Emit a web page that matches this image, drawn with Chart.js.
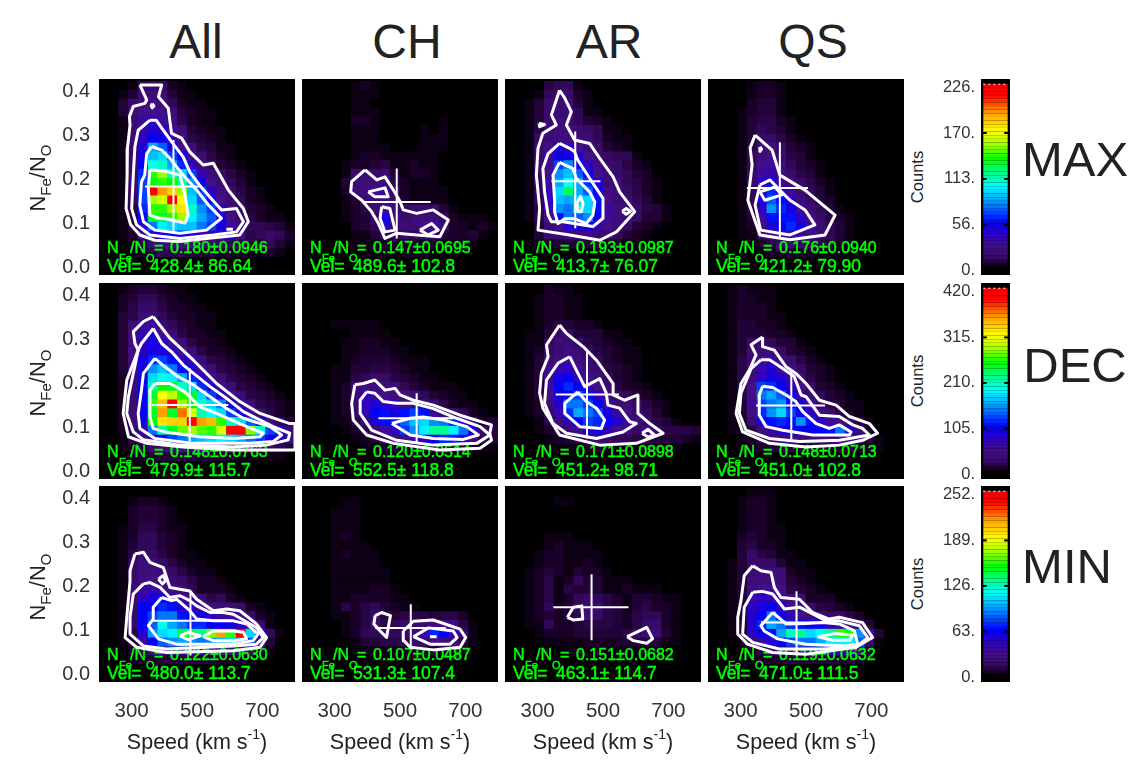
<!DOCTYPE html>
<html>
<head>
<meta charset="utf-8">
<title>Fe/O versus speed</title>
<script src="https://cdn.jsdelivr.net/npm/chart.js@4"></script>
<style>
  body { margin: 0; background: #fff; width: 1128px; height: 767px; overflow: hidden; position: relative; font-family: "Liberation Sans", Arial, sans-serif; color: #222; }
  canvas { position: absolute; display: block; }
  .t { position: absolute; white-space: pre; line-height: 1; }
  .c { transform: translate(-50%, -50%); }
  .r { transform: translate(-50%, -50%) rotate(-90deg); }
  sub { font-size: 15px; vertical-align: -6px; line-height: 0; }
  sup { font-size: 14px; vertical-align: 10px; line-height: 0; }
</style>
</head>
<body>
<script>
// Axes and bins
const xTicks = [300, 500, 700];
const yTicks = [0, 0.1, 0.2, 0.3, 0.4];
const speedBins = [215, 245, 275, 305, 335, 365, 395, 425, 455, 485, 515, 545, 575, 605, 635, 665, 695, 725, 755, 785];
const ratioBins = [0.402, 0.382, 0.362, 0.342, 0.322, 0.302, 0.282, 0.262, 0.242, 0.222, 0.202, 0.182, 0.162, 0.142, 0.122, 0.102, 0.082, 0.062, 0.042, 0.022, 0.002, -0.018];

const columnNames = ['All', 'CH', 'AR', 'QS'];
const rowNames = ['MAX', 'DEC', 'MIN'];
const countTicks = [[0, 56, 113, 170, 226], [0, 105, 210, 315, 420], [0, 63, 126, 189, 252]];
const barLevels = [0, 2, 4, 6, 8, 10, 12, 14, 16, 18, 20, 22, 24, 26, 28, 30, 32, 34, 36, 38, 40, 42, 44, 46, 48, 50, 52, 54, 56, 58, 60, 62, 64, 66, 68, 70, 72, 74, 76, 78, 80, 82, 84, 86, 88, 90, 92, 94, 96, 98, 100];

// Colour table, position in percent of the colour bar
const rampStops = [0, 2, 6, 12, 18, 25, 36, 45, 52, 60, 68, 75, 85, 95, 100];
const rampColors = ['#000000', '#1a0028', '#380a68', '#420f88', '#3000c0', '#0000ff', '#0090ff', '#00ffff', '#00ff90', '#00ff00', '#a0ff00', '#ffff00', '#ffa000', '#ff0000', '#ff0000'];

// Stats printed in the panels
const ratioText = ['0.180±0.0946', '0.147±0.0695', '0.193±0.0987', '0.176±0.0940', '0.148±0.0763', '0.120±0.0514', '0.171±0.0898', '0.148±0.0713', '0.122±0.0630', '0.107±0.0487', '0.151±0.0682', '0.119±0.0632'];
const velText = ['428.4± 86.64', '489.6± 102.8', '413.7± 76.07', '421.2± 79.90', '479.9± 115.7', '552.5± 118.8', '451.2± 98.71', '451.0± 102.8', '480.0± 113.7', '531.3± 107.4', '463.1± 114.7', '471.0± 111.5'];

// Heat map levels in percent of the row's colour bar, top row first, trailing zeros left out
const allMaxLevels = [
  [0,0,0,1,5,6,6,2,1],[0,0,1,3,8,9,8,3,1,1],[0,0,3,7,10,11,10,5,2,1,1],[0,0,3,8,12,12,11,9,3,2,1,1],
  [0,0,1,8,14,18,14,10,4,2,1,1],[0,0,1,8,16,20,18,13,8,3,2,1,1],[0,0,1,8,18,24,22,16,10,4,3,2,1],
  [0,0,1,7,20,38,32,22,12,8,4,3,1,1],[0,0,1,7,22,40,42,30,22,11,8,4,2,1],[0,0,1,6,25,46,48,38,28,18,9,6,3,2,1],
  [0,0,1,6,28,62,68,50,42,30,16,9,6,4,2,1],[0,0,1,6,30,60,62,60,50,36,22,12,8,5,3,1],
  [0,0,1,6,30,96,85,80,68,40,30,18,10,7,4,2,1],[0,0,1,5,30,68,72,98,75,42,32,22,12,8,5,2,1],
  [0,0,1,4,28,62,62,68,78,48,36,30,18,8,6,3,2,1],[0,0,1,4,24,58,58,62,68,44,38,32,22,12,6,4,2,1,1],
  [0,0,1,3,20,34,44,42,40,40,34,30,22,14,8,5,5,4,3,1],[0,0,1,2,12,20,22,24,22,20,18,16,14,18,10,4,5,6,5,2],
  [0,0,0,1,4,8,10,10,10,10,9,8,6,5,5,3,3,5,3,1],[0,0,0,1,2,4,5,4,4,3,3,3,2,2,2,1,1,2,1],[],[]
];
const chMaxLevels = [
  [0,0,0,0,0,1,2,1],[0,0,0,0,0,1,1,1],[0,0,0,0,0,1,1],[0,0,0,0,0,1,1,1],[0,0,0,0,0,2,2,1,0,0,0,0,0,0,1],
  [0,0,0,0,0,1,1,1,0,0,0,0,1,0,1],[0,0,0,0,0,1,1,1,0,0,0,0,1,1,1],[0,0,0,0,0,1,1,1,1,0,0,0,1,1,1],
  [0,0,0,0,0,1,2,2,1,1,1,1,1,1],[0,0,0,0,1,2,2,3,4,1,1,2,1,1],[0,0,0,0,1,7,8,6,7,3,1,2,2,1],
  [0,0,0,0,3,8,9,9,9,4,2,1,1,1],[0,0,0,0,2,8,10,12,14,6,2,1,1,1,1],[0,0,0,0,1,3,8,8,10,7,2,1,1,1,1],
  [0,0,0,0,1,2,4,8,14,8,6,7,8,6,3,1],[0,0,0,0,1,2,3,5,22,8,6,8,9,9,6,2,1,1,1],[0,0,0,0,0,2,3,5,20,7,8,8,12,14,8,2,2,1,2,1],
  [0,0,0,0,0,1,1,3,5,4,6,5,6,7,3,2,2,3,1],[0,0,0,0,0,1,1,1,2,2,2,2,2,2,1,1,1,1],[0,0,0,0,0,0,1,1,1,1,1,1,1],[],[]
];
const arMaxLevels = [
  [0,0,0,0,4,5,5,1],[0,0,0,1,5,7,7,2,1],[0,0,1,3,7,8,8,3,1],[0,0,1,3,6,8,8,5,1,1],[0,0,1,3,7,9,8,5,3,2,1],
  [0,0,1,4,8,10,10,8,6,5,1,1],[0,0,1,6,8,10,10,9,8,5,2,1,1],[0,0,1,7,12,20,18,12,8,6,3,2,1],[0,0,1,7,14,22,22,20,12,8,6,5,5,1],
  [0,0,1,7,12,30,36,22,18,10,7,6,4,2,1],[0,0,1,6,12,36,40,32,22,12,8,6,5,3,2],[0,0,1,5,14,38,45,38,28,20,8,8,5,4,2,1],
  [0,0,1,5,16,42,55,38,32,22,10,8,6,4,2,1],[0,0,1,5,18,40,38,42,42,26,12,8,8,5,3,1],[0,0,1,4,14,36,34,48,42,26,14,10,8,6,4,3,1],
  [0,0,1,4,12,26,34,32,36,22,14,9,8,6,3,3,1],[0,0,0,3,8,12,20,20,22,16,12,8,6,3,2,1],[0,0,0,3,6,7,8,8,10,8,7,5,3,2,1],
  [0,0,0,1,2,3,3,3,3,3,2,2,1,1],[],[],[]
];
const qsMaxLevels = [
  [0,0,0,0,1,2,2,1],[0,0,0,0,1,2,2,1],[0,0,0,0,2,3,3,1],[0,0,0,1,2,3,3,1],[0,0,0,1,3,4,4,2,1],[0,0,0,1,3,5,4,3,1],
  [0,0,0,1,3,6,6,4,2,1],[0,0,0,1,4,8,10,6,3,2,1],[0,0,0,1,5,9,12,7,4,3,1],[0,0,0,1,5,12,14,9,5,3,2,1],[0,0,0,1,6,14,16,10,7,4,3,1],
  [0,0,0,1,6,18,22,14,10,6,4,2,1],[0,0,0,1,5,20,28,20,14,8,5,3,1],[0,0,0,1,5,22,32,26,18,10,6,3,2],[0,0,0,1,4,18,36,28,22,14,8,5,3,1],
  [0,0,0,1,3,14,26,26,26,18,10,6,4,2,1],[0,0,0,1,2,10,20,24,28,22,14,8,5,3,1],[0,0,0,1,1,6,10,14,14,14,12,8,5,3,1],
  [0,0,0,0,1,2,4,6,6,6,5,4,3,2,1],[0,0,0,0,0,1,2,2,2,2,2,1,1,1],[],[]
];
const allDecLevels = [
  [0,0,1,2,3,3,2,1,1],[0,0,2,3,5,5,3,2,1,1],[0,0,2,4,6,6,4,2,2,1,1],[0,0,3,4,8,8,5,3,2,2,1,1],[0,0,3,8,14,14,8,5,3,2,1,1],
  [0,0,3,10,16,20,12,8,4,2,2,1,1],[0,0,3,10,18,22,18,12,8,4,2,2,1],[0,0,3,12,18,22,22,18,12,8,4,2,2,1],[0,0,3,10,22,28,30,26,18,16,8,4,3,2,1],
  [0,0,3,10,22,36,40,34,26,20,12,8,4,3,2,1],[0,0,2,8,22,42,46,44,38,28,18,12,8,4,3,2,1],[0,0,2,8,24,50,60,58,48,42,28,20,12,8,4,3,2,1],
  [0,0,2,8,24,58,75,70,62,58,42,30,20,12,8,4,3,2,1],[0,0,2,8,24,62,82,95,68,60,48,42,35,22,14,8,4,3,2,1],[0,0,2,8,24,58,85,58,88,72,50,45,42,30,22,12,8,4,2,1],
  [0,0,2,8,22,60,78,80,80,95,85,82,62,50,42,32,20,10,5,3],[0,0,2,6,16,34,50,58,65,68,64,62,72,96,96,66,48,30,20,8],[0,0,1,4,8,16,24,30,34,38,40,42,44,42,38,34,30,22,20,10],
  [0,0,1,2,4,6,8,10,12,14,14,12,10,8,8,6,6,6,5,3],[0,0,0,1,2,2,3,3,3,3,3,2,2,2,1,1,1,1,1],[],[]
];
const chDecLevels = [
  [],[],[],[],[0,0,0,1,1,1,1,1],[0,0,0,0,0,1,1,1,1],[0,0,0,0,1,1,2,2,1,1],[0,0,0,0,1,1,2,2,2,1,1],[0,0,0,0,1,2,3,3,3,2,1,1,1],
  [0,0,0,1,1,3,3,4,4,3,2,1,1],[0,0,0,1,1,4,5,6,6,4,3,2,1,1],[0,0,0,1,2,8,10,10,8,8,5,3,2,1,1,1],[0,0,0,1,2,8,18,14,12,10,10,8,5,3,2,1,1],
  [0,0,0,1,2,8,18,20,18,16,10,8,8,8,4,2,1,1],[0,0,0,1,2,6,16,25,26,22,26,30,26,14,10,8,5,2,1],[0,0,0,1,1,4,8,20,26,26,32,40,42,36,34,28,18,8,2,3],
  [0,0,0,0,1,2,4,8,14,18,30,36,44,52,52,44,34,22,6,4],[0,0,0,0,0,1,2,3,6,8,10,16,20,24,28,26,20,10,5,3],[0,0,0,0,0,0,1,1,2,3,3,3,4,4,4,3,3,2,1,1],
  [0,0,0,0,0,0,0,0,1,1,1,1,1,1,1],[],[]
];
const arDecLevels = [
  [0,0,0,0,2,1,1],[0,0,0,1,2,2,1,1],[0,0,0,1,2,2,1,1],[0,0,0,1,2,2,1,1],[0,0,0,1,2,4,3,2,2,1],[0,0,1,1,3,6,6,3,3,3,1,1],[0,0,1,1,5,8,8,6,4,3,2,1,1],
  [0,0,1,2,6,8,10,8,6,4,3,2,1,1],[0,0,1,3,8,10,14,10,8,5,3,2,1,1],[0,0,1,3,10,16,18,12,9,7,4,3,2,1],[0,0,1,3,10,22,24,16,12,9,6,3,2,1],
  [0,0,1,3,14,24,28,24,16,12,7,4,2,2,1],[0,0,1,3,12,22,24,30,26,18,10,6,5,3,2,1],[0,0,1,2,8,20,34,34,30,24,14,8,8,6,4,2,1],
  [0,0,1,2,6,16,28,38,34,30,22,14,10,6,5,3,1],[0,0,0,1,4,10,18,24,30,28,24,20,14,10,6,4,3,1],[0,0,0,1,2,4,8,14,20,22,18,12,10,6,10,7,4,4,4,3],
  [0,0,0,0,1,2,3,4,7,8,6,5,5,4,4,3,3,3,2,1],[0,0,0,0,1,1,1,1,2,2,2,1,1,1,1,1,1,1],[],[],[]
];
const qsDecLevels = [
  [0,0,1,2,1,1,1],[0,0,1,2,2,1,1],[0,0,1,2,2,2,1],[0,0,1,2,2,2,1,1],[0,0,1,3,3,2,2,1],[0,0,1,3,3,3,2,2,1],[0,0,1,3,6,7,5,3,3,1],
  [0,0,1,3,8,8,9,6,3,2,1],[0,0,1,4,8,12,14,10,7,4,2,1],[0,0,1,4,10,16,20,14,10,6,3,2,1],[0,0,1,4,10,18,22,20,14,8,4,2,1],
  [0,0,1,4,12,30,28,24,18,12,6,3,2,1],[0,0,1,4,12,34,38,32,24,16,8,5,3,2,1],[0,0,1,3,14,30,34,36,26,20,12,6,4,3,1,1],
  [0,0,1,3,10,28,36,42,30,24,18,10,7,4,2,1],[0,0,1,2,8,22,26,28,26,36,26,18,14,12,6,4,1],[0,0,1,1,4,10,16,20,22,24,24,24,26,34,20,8,2],
  [0,0,0,1,2,4,6,8,10,10,10,10,10,12,10,6,3,1],[0,0,0,1,2,2,3,3,3,3,3,3,3,3,3,2,2,1],[],[],[]
];
const allMinLevels = [
  [],[0,0,0,1,2,2,1],[0,0,0,2,3,3,2,1],[0,0,0,2,3,3,2,1],[0,0,1,2,4,4,2,1,1],[0,0,1,2,5,5,3,2,1],[0,0,1,3,5,5,3,2,1],[0,0,1,4,8,6,4,2,1,1],
  [0,0,1,6,10,8,6,4,2,1,1],[0,0,1,6,9,10,8,6,4,2,1,1],[0,0,1,6,10,12,10,8,6,4,2,2,1],[0,0,1,7,14,16,14,10,8,5,2,2,2,1],
  [0,0,1,7,18,22,22,16,14,10,8,4,5,2,1],[0,0,1,7,25,24,28,26,20,18,12,10,8,8,6,2,1],[0,0,1,6,25,30,34,34,26,24,22,18,14,14,10,6,2,1],
  [0,0,1,6,25,32,46,38,34,28,28,24,24,22,18,14,6,1],[0,0,1,4,20,36,42,44,56,56,52,66,85,62,95,42,24,5,1],[0,0,1,3,14,24,32,36,38,36,34,36,40,42,38,30,12,3],
  [0,0,0,2,4,8,10,12,14,14,14,12,12,10,10,6,3,1],[0,0,0,1,2,2,3,3,3,3,3,3,2,2,2,1],[],[]
];
const chMinLevels = [
  [],[0,0,0,0,1,1],[0,0,0,1,1,1],[0,0,0,1,1,1],[0,0,0,1,1,1],[0,0,0,1,2,1],[0,0,0,1,1,1,1],[0,0,0,1,2,1,1,1],[0,0,0,1,1,1,1,1],[0,0,0,1,1,1,1,1,1],[0,0,0,1,1,1,1,1,1],
  [0,0,0,1,1,1,1,2,2,1],[0,0,0,1,1,2,2,2,2,1,1],[0,0,0,1,4,2,4,5,3,2,1,1],[0,0,0,1,1,2,4,6,4,3,4,4,4,3,4,4,2],[0,0,0,0,1,2,4,8,4,5,6,6,8,10,10,10,4,1],
  [0,0,0,0,1,2,5,5,6,5,6,8,16,28,24,18,6,1],[0,0,0,0,0,1,3,3,4,4,5,6,8,12,10,8,4,1],[0,0,0,0,0,0,1,1,1,1,1,2,2,2,2,1,1],[],[],[]
];
const arMinLevels = [
  [],[0,0,0,0,0,1,1],[],[],[],[0,0,0,0,1,1,1],[0,0,0,0,1,2,1,1,1],[0,0,0,1,2,2,1,1,1,1],[0,0,0,1,2,2,1,1,2,1],[0,0,1,2,3,2,1,3,2,2,1],[0,0,1,2,4,1,2,5,3,3,1,1,1],
  [0,0,1,2,4,1,4,3,3,3,1,1,2,1,1,1],[0,0,1,2,4,1,2,5,6,5,4,2,1,3,3,2,1,1],[0,0,1,2,5,2,3,5,8,8,4,3,1,3,4,2,2,1],[0,0,1,2,3,2,3,5,10,6,4,3,2,4,5,5,2,1],
  [0,0,1,1,5,2,2,3,4,4,4,3,2,4,6,7,2,1],[0,0,0,1,2,2,2,3,3,3,3,3,4,6,8,8,3,1],[0,0,0,0,1,1,1,1,2,2,2,2,3,3,4,3,1,1],[0,0,0,0,0,0,1,1,1,1,1,1,1,1,1,1],[],[],[]
];
const qsMinLevels = [
  [0,0,0,0,1,1,1],[0,0,0,1,2,2,1],[0,0,0,1,2,2,1],[0,0,0,1,2,2,1],[0,0,0,1,2,2,1,1],[0,0,0,2,3,2,1,1],[0,0,0,3,4,2,2,1],[0,0,0,3,6,4,3,1,1],[0,0,1,3,6,6,6,3,1,1],
  [0,0,1,3,8,9,9,8,2,1,1],[0,0,1,3,9,10,11,8,3,2,1],[0,0,1,3,10,12,12,12,4,3,2,1],[0,0,1,3,16,18,16,14,10,8,2,2,2],[0,0,1,3,18,22,24,18,12,10,6,4,3,2,1],
  [0,0,1,3,20,24,34,24,16,12,10,8,6,6,4,2],[0,0,1,3,20,28,38,34,28,26,24,22,18,14,12,8,3],[0,0,1,2,18,24,26,38,50,52,42,46,52,62,60,36,16,3],
  [0,0,0,1,8,16,20,24,30,34,34,38,44,44,46,32,6,1],[0,0,0,1,2,4,6,8,10,14,14,16,18,18,16,10,3],[0,0,0,0,1,2,2,2,3,3,3,3,3,3,3,2],[],[]
];

// Contours as [speed, Fe/O] pairs
const allMaxContours = [
  [[325,.414],[346,.38],[340,.372],[305,.365],[293,.342],[295,.323],[287,.27],[286,.209],[283,.133],[297,.096],[325,.073],[371,.061],[448,.058],[529,.065],[631,.073],[657,.103],[642,.133],[596,.175],[550,.236],[519,.232],[478,.262],[453,.293],[422,.304],[412,.361],[382,.387],[392,.414]],
  [[356,.334],[320,.311],[310,.274],[305,.209],[300,.133],[315,.096],[356,.073],[448,.065],[550,.073],[621,.08],[642,.103],[621,.133],[575,.13],[550,.15],[508,.186],[478,.216],[458,.25],[422,.285],[397,.311],[375,.334]],
  [[361,.274],[346,.258],[340,.209],[330,.194],[325,.141],[336,.103],[371,.084],[448,.077],[529,.084],[575,.111],[560,.122],[535,.141],[499,.175],[458,.209],[417,.247],[392,.266]],
  [[356,.221],[351,.179],[356,.118],[382,.111],[397,.111],[463,.1],[473,.118],[463,.164],[448,.209],[407,.217]],
  [[363,.372],[368,.366],[363,.362],[360,.366]],
  [[590,.086],[610,.086]]
];
const chMaxContours = [
  [[393,.221],[352,.194],[349,.171],[383,.152],[413,.126],[434,.099],[454,.065],[490,.077],[551,.073],[622,.069],[648,.107],[602,.13],[551,.122],[510,.13],[500,.149],[480,.175],[454,.205],[429,.198]],
  [[403,.171],[454,.18],[464,.16],[423,.16]],
  [[444,.137],[469,.133],[485,.084],[454,.08],[439,.111]],
  [[561,.084],[597,.099],[617,.084],[587,.073]]
];
const arMaxContours = [
  [[367,.402],[347,.357],[342,.346],[357,.323],[316,.304],[301,.27],[296,.209],[306,.133],[301,.084],[398,.073],[490,.061],[541,.08],[597,.126],[551,.171],[531,.205],[490,.247],[459,.281],[413,.289],[388,.323],[403,.353],[383,.384]],
  [[304,.327],[321,.324],[306,.319]],
  [[367,.281],[332,.258],[316,.224],[321,.171],[332,.118],[342,.103],[378,.103],[469,.092],[500,.111],[500,.156],[459,.202],[423,.243],[413,.262],[398,.27]],
  [[367,.238],[347,.209],[352,.15],[352,.125],[362,.099],[383,.11],[413,.11],[449,.099],[469,.118],[475,.148],[459,.171],[418,.202],[408,.224]],
  [[420,.145],[431,.16],[439,.145],[434,.126],[423,.126]],
  [[559,.127],[571,.133],[584,.127],[571,.12]]
];
const qsMaxContours = [
  [[344,.30],[396,.266],[420,.209],[497,.175],[589,.118],[558,.073],[451,.062],[359,.073],[322,.152],[335,.232],[329,.271]],
  [[359,.187],[344,.141],[361,.084],[451,.073],[527,.096],[497,.13],[451,.152],[420,.175],[390,.198]],
  [[359,.171],[405,.182],[426,.164],[374,.152]],
  [[359,.273],[364,.268],[359,.263]]
];
const allDecContours = [
  [[366,.351],[336,.340],[305,.317],[310,.290],[320,.275],[285,.207],[274,.131],[290,.078],[346,.063],[458,.055],[611,.048],[713,.048],[784,.048],[800,.048],[800,.108],[784,.108],[693,.131],[631,.158],[560,.199],[489,.252],[417,.302]],
  [[366,.324],[330,.290],[320,.275],[290,.169],[285,.131],[305,.089],[336,.071],[448,.059],[611,.055],[713,.059],[779,.071],[784,.086],[733,.101],[642,.135],[591,.165],[540,.192],[458,.241],[422,.271],[392,.290]],
  [[371,.256],[336,.222],[330,.184],[320,.131],[325,.097],[371,.074],[489,.063],[662,.063],[733,.067],[759,.082],[723,.101],[642,.12],[591,.142],[540,.169],[483,.199],[443,.214],[402,.237]],
  [[371,.199],[356,.184],[356,.123],[366,.097],[402,.089],[509,.078],[611,.074],[693,.078],[703,.086],[652,.101],[560,.131],[509,.146],[463,.18],[417,.199]]
];
const chDecContours = [
  [[362,.196],[352,.154],[357,.116],[398,.082],[480,.063],[622,.048],[745,.052],[780,.07],[775,.086],[780,.105],[684,.127],[602,.15],[541,.161],[500,.173],[485,.188],[454,.184],[423,.207],[388,.199]],
  [[398,.18],[378,.161],[378,.131],[413,.093],[490,.07],[602,.059],[735,.063],[775,.082],[745,.101],[673,.12],[602,.142],[541,.154],[490,.154],[449,.158],[423,.177]],
  [[475,.108],[531,.082],[602,.074],[694,.072],[740,.082],[704,.101],[633,.116],[571,.123],[531,.12]]
];
const arDecContours = [
  [[367,.332],[327,.287],[332,.26],[311,.222],[306,.177],[316,.143],[367,.082],[490,.059],[602,.063],[684,.086],[643,.108],[607,.131],[607,.173],[566,.161],[531,.173],[531,.199],[480,.252],[439,.283],[388,.313]],
  [[398,.26],[362,.245],[327,.207],[321,.154],[347,.108],[388,.086],[480,.074],[561,.089],[602,.108],[582,.112],[551,.143],[515,.15],[510,.177],[490,.21],[444,.192],[418,.23]],
  [[423,.18],[383,.154],[383,.131],[429,.101],[495,.097],[505,.116],[480,.143],[449,.158]],
  [[620,.086],[638,.095],[658,.082],[638,.077]]
];
const qsDecContours = [
  [[367,.305],[332,.287],[347,.264],[327,.230],[301,.199],[286,.131],[306,.089],[388,.063],[500,.055],[602,.059],[673,.07],[719,.086],[694,.108],[633,.124],[592,.15],[541,.161],[500,.199],[469,.222],[439,.237],[403,.275],[367,.283]],
  [[362,.253],[332,.233],[301,.177],[296,.131],[316,.093],[388,.074],[480,.067],[602,.07],[694,.082],[673,.097],[643,.105],[602,.124],[541,.127],[500,.169],[485,.173],[464,.215],[413,.241],[388,.253]],
  [[367,.193],[357,.173],[357,.127],[378,.101],[429,.093],[520,.082],[633,.082],[638,.089],[602,.105],[571,.097],[531,.108],[490,.135],[469,.158],[439,.173],[398,.19]]
];
const allMinContours = [
  [[310,.273],[295,.235],[295,.212],[285,.129],[280,.083],[315,.061],[407,.049],[611,.053],[693,.061],[713,.083],[682,.114],[631,.144],[591,.148],[550,.144],[499,.170],[478,.189],[417,.197],[397,.242],[356,.254],[336,.277]],
  [[336,.205],[305,.182],[295,.129],[295,.091],[336,.064],[407,.057],[611,.064],[682,.068],[703,.083],[682,.106],[611,.136],[580,.14],[540,.14],[499,.155],[478,.167],[448,.178],[417,.174],[387,.197],[356,.208]],
  [[392,.174],[366,.152],[366,.125],[351,.110],[382,.08],[438,.068],[611,.068],[672,.076],[687,.091],[652,.114],[611,.121],[550,.121],[499,.125],[478,.144],[438,.17],[422,.167]],
  [[448,.087],[473,.095],[509,.087],[473,.078]],
  [[519,.085],[550,.098],[611,.098],[642,.095],[652,.08],[611,.076],[550,.076]],
  [[382,.216],[397,.224],[404,.212],[394,.205]]
];
const chMinContours = [
  [[424,.133],[444,.14],[471,.133],[464,.106],[459,.083],[434,.102],[420,.114]],
  [[510,.098],[541,.12],[602,.123],[684,.102],[701,.083],[684,.061],[602,.055],[531,.061],[512,.076]],
  [[541,.085],[587,.105],[663,.098],[675,.083],[653,.068],[592,.068]],
  [[592,.085],[612,.085]]
];
const arMinContours = [
  [[391,.129],[409,.152],[435,.155],[438,.125],[409,.123]],
  [[574,.085],[634,.106],[652,.08],[634,.07],[593,.076]]
];
const qsMinContours = [
  [[337,.246],[311,.224],[301,.167],[291,.129],[291,.091],[321,.068],[398,.049],[500,.045],[653,.061],[704,.083],[673,.117],[602,.129],[571,.125],[520,.14],[480,.17],[423,.174],[403,.197],[393,.231],[362,.235]],
  [[337,.186],[311,.152],[306,.091],[337,.072],[418,.057],[551,.057],[653,.061],[689,.083],[663,.11],[602,.121],[561,.121],[531,.133],[480,.152],[434,.148],[398,.182],[367,.188]],
  [[398,.14],[362,.11],[372,.098],[413,.08],[500,.068],[622,.064],[658,.068],[648,.098],[602,.114],[551,.117],[500,.115],[439,.114]],
  [[536,.085],[587,.092],[643,.089],[633,.077],[582,.077]]
];

// Mean +- spread crosses: vertical bar then horizontal bar
const crosses = [
  [[[428,.289],[428,.08]], [[341,.183],[514,.183]]],
  [[[490,.224],[490,.065]], [[388,.148],[594,.148]]],
  [[[415,.308],[415,.088]], [[342,.195],[492,.195]]],
  [[[420,.284],[420,.066]], [[319,.18],[506,.18]]],
  [[[478,.233],[478,.067]], [[361,.150],[596,.150]]],
  [[[551,.177],[551,.063]], [[434,.12],[663,.12]]],
  [[[451,.271],[451,.074]], [[355,.174],[549,.174]]],
  [[[455,.23],[455,.072]], [[347,.149],[558,.149]]],
  [[[480,.189],[480,.042]], [[366,.121],[596,.121]]],
  [[[533,.159],[533,.061]], [[424,.105],[640,.105]]],
  [[[465,.227],[465,.077]], [[348,.152],[578,.152]]],
  [[[471,.188],[471,.042]], [[362,.117],[573,.117]]]
];

const allLevels = [allMaxLevels, chMaxLevels, arMaxLevels, qsMaxLevels, allDecLevels, chDecLevels, arDecLevels, qsDecLevels, allMinLevels, chMinLevels, arMinLevels, qsMinLevels];
const allContours = [allMaxContours, chMaxContours, arMaxContours, qsMaxContours, allDecContours, chDecContours, arDecContours, qsDecContours, allMinContours, chMinContours, arMinContours, qsMinContours];

// Layout
const colLeft = [99, 302, 505, 708];
const rowTop = [79, 283, 486];
const panelSize = 196;
const yAxisWidth = 55;
const xAxisHeight = 46;
const tickColor = '#333';

function hexToRgb(hex) {
  return [1, 3, 5].map(i => parseInt(hex.slice(i, i + 2), 16));
}

function levelColor(level) {
  let i = 0;
  while (i < rampStops.length - 2 && level > rampStops[i + 1]) i++;
  const f = Math.min(1, (level - rampStops[i]) / (rampStops[i + 1] - rampStops[i]));
  const a = hexToRgb(rampColors[i]);
  const b = hexToRgb(rampColors[i + 1]);
  return `rgb(${a.map((v, k) => Math.round(v + (b[k] - v) * f)).join(',')})`;
}

function addText(html, x, y, css, cls) {
  const el = document.createElement('div');
  el.className = 't ' + (cls || '');
  el.innerHTML = html;
  el.style.cssText = `left:${x}px;top:${y}px;${css}`;
  document.body.appendChild(el);
}

function addCanvas(left, top, width, height) {
  const canvas = document.createElement('canvas');
  canvas.width = width;
  canvas.height = height;
  canvas.style.left = left + 'px';
  canvas.style.top = top + 'px';
  canvas.style.width = width + 'px';
  canvas.style.height = height + 'px';
  document.body.appendChild(canvas);
  return canvas;
}

// Chart.js pads the chart area for half a tick label, the panels need exact sizes
function fixAxis(scale, size) {
  if (scale.isHorizontal()) scale.height = size;
  else scale.width = size;
  scale.paddingTop = scale.paddingBottom = scale.paddingLeft = scale.paddingRight = 0;
}

const blackArea = {
  id: 'blackArea',
  beforeDatasetsDraw(chart) {
    const a = chart.chartArea;
    chart.ctx.fillStyle = '#000';
    chart.ctx.fillRect(a.left, a.top, a.right - a.left, a.bottom - a.top);
  }
};

// stats go on top of the heat map but under the contours
function statsPlugin(index) {
  return {
    id: 'stats',
    afterDatasetDraw(chart, args) {
      if (args.index !== 0) return;
      const ctx = chart.ctx;
      const x = chart.chartArea.left + 8;
      const y = chart.chartArea.top;
      ctx.save();
      ctx.fillStyle = '#00ff00';
      ctx.strokeStyle = '#00ff00';
      ctx.lineWidth = 0.5;
      ctx.textBaseline = 'alphabetic';
      const put = (text, dx, dy, size) => {
        ctx.font = `${size}px "Liberation Sans"`;
        ctx.fillText(text, x + dx, y + dy);
        ctx.strokeText(text, x + dx, y + dy);
      };
      put('N', 0, 174, 16);
      put('/N', 23, 174, 16);
      put('=', 47, 174, 16);
      put(ratioText[index], 63, 174, 16);
      put('Fe', 12, 183, 11);
      put('O', 39, 183, 11);
      put('Vel=', 0, 193, 17.5);
      put(velText[index], 43, 193, 17.5);
      ctx.restore();
    }
  };
}

function linePoints(pts, closed) {
  const data = pts.map(p => ({ x: p[0], y: p[1] }));
  if (closed && data.length > 2) data.push(data[0]);
  return data;
}

function drawPanel(row, col) {
  const index = row * 4 + col;
  const padLeft = col === 0 ? yAxisWidth : 0;
  const padBottom = row === 2 ? xAxisHeight : 0;
  const canvas = addCanvas(colLeft[col] - padLeft, rowTop[row], panelSize + padLeft, panelSize + padBottom);

  const cells = [];
  const colors = [];
  allLevels[index].forEach((levels, r) => {
    speedBins.forEach((speed, c) => {
      cells.push({ x: speed, y: [ratioBins[r], ratioBins[r] + 0.02] });
      colors.push(levelColor(levels[c] || 0));
    });
  });

  const datasets = [{ type: 'bar', data: cells, backgroundColor: colors, grouped: false, barPercentage: 1, categoryPercentage: 1, order: 2 }];
  allContours[index].forEach(pts => {
    datasets.push({ type: 'line', data: linePoints(pts, true), borderColor: '#fff', borderWidth: 3, borderJoinStyle: 'round', pointRadius: 0, tension: 0, order: 1 });
  });
  crosses[index].forEach(pts => {
    datasets.push({ type: 'line', data: linePoints(pts, false), borderColor: '#fff', borderWidth: 2, pointRadius: 0, order: 1 });
  });

  new Chart(canvas, {
    type: 'bar',
    data: { datasets },
    plugins: [blackArea, statsPlugin(index)],
    options: {
      animation: false,
      responsive: false,
      layout: { padding: 0 },
      plugins: { legend: { display: false }, tooltip: { enabled: false } },
      scales: {
        x: {
          type: 'linear', min: 200, max: 800, offset: false, display: row === 2,
          grid: { display: false, drawTicks: false }, border: { display: false },
          ticks: { color: tickColor, font: { size: 20.5, family: 'Liberation Sans' }, padding: 17, maxRotation: 0, autoSkip: false },
          afterBuildTicks: s => { s.ticks = xTicks.map(value => ({ value })); },
          afterFit: s => fixAxis(s, padBottom)
        },
        y: {
          type: 'linear', min: -0.018, max: 0.4275, display: col === 0,
          grid: { display: false, drawTicks: false }, border: { display: false },
          ticks: { color: tickColor, font: { size: 20, family: 'Liberation Sans' }, padding: 9, callback: v => v.toFixed(1) },
          afterBuildTicks: s => { s.ticks = yTicks.map(value => ({ value })); },
          afterFit: s => fixAxis(s, padLeft)
        }
      }
    }
  });
}

function drawColorBar(row) {
  const ticks = countTicks[row];
  const top = ticks[ticks.length - 1];
  const barEdge = top * 1.02;
  const padLeft = 51;
  const canvas = addCanvas(981 - padLeft, rowTop[row], 29 + padLeft, panelSize);

  const cells = barLevels.map(level => ({ x: 0.5, y: [level / 100 * top, (level + 2) / 100 * top] }));
  const datasets = [{ type: 'bar', data: cells, backgroundColor: barLevels.map(levelColor), grouped: false, barPercentage: 0.84, categoryPercentage: 1, order: 2 }];
  ticks.slice(1, -1).forEach(v => {
    datasets.push({ type: 'line', data: [{ x: 0, y: v }, { x: 0.2, y: v }], borderColor: '#000', borderWidth: 2, pointRadius: 0, order: 1 });
    datasets.push({ type: 'line', data: [{ x: 0.8, y: v }, { x: 1, y: v }], borderColor: '#000', borderWidth: 2, pointRadius: 0, order: 1 });
  });
  datasets.push({ type: 'line', data: [{ x: 0.08, y: barEdge }, { x: 0.92, y: barEdge }], borderColor: '#fff', borderWidth: 1, borderDash: [2, 3], pointRadius: 0, order: 1 });

  new Chart(canvas, {
    type: 'bar',
    data: { datasets },
    plugins: [blackArea],
    options: {
      animation: false,
      responsive: false,
      layout: { padding: 0 },
      plugins: { legend: { display: false }, tooltip: { enabled: false } },
      scales: {
        x: { type: 'linear', min: 0, max: 1, offset: false, display: false, afterFit: s => fixAxis(s, 0) },
        y: {
          type: 'linear', min: -0.0275 * top, max: 1.0486 * top,
          grid: { display: false, drawTicks: false }, border: { display: false },
          ticks: { color: tickColor, font: { size: 16.5, family: 'Liberation Sans' }, padding: 6, callback: v => v + '.' },
          afterBuildTicks: s => { s.ticks = ticks.map(value => ({ value })); },
          afterFit: s => fixAxis(s, padLeft)
        }
      }
    }
  });
}

rowNames.forEach((name, row) => {
  columnNames.forEach((_, col) => drawPanel(row, col));
  drawColorBar(row);
});

// Headings and axis titles
const titleX = [196, 407, 609, 813];
columnNames.forEach((name, col) => {
  addText(name, titleX[col], 42, 'font-size:48px;color:#222;', 'c');
  addText('Speed (km s<sup>-1</sup>)', colLeft[col] + 98, 743, 'font-size:21.5px;color:#222;', 'c');
});
const sideY = [159, 365, 566];
const titleY = [178, 383, 587];
rowNames.forEach((name, row) => {
  addText(name, 1075 - (name === 'MIN' ? 8 : 0), sideY[row], 'font-size:49px;color:#222;', 'c');
  addText('N<sub>Fe</sub>/N<sub>O</sub>', 38, titleY[row], 'font-size:22px;color:#222;', 'r');
  addText('Counts', 917, rowTop[row] + 98, 'font-size:16.5px;color:#222;', 'r');
});
</script>
</body>
</html>
